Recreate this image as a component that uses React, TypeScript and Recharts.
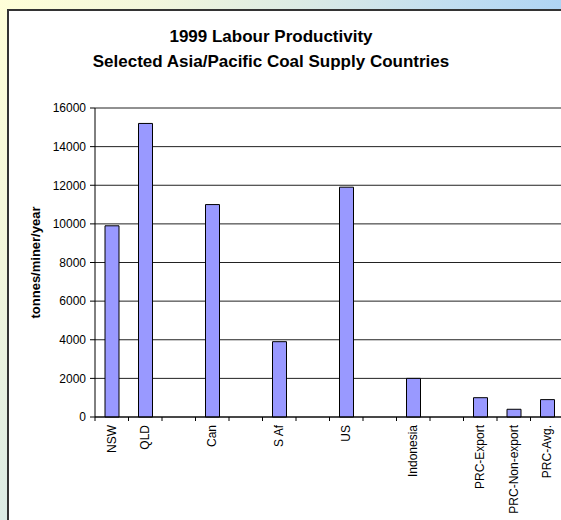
import React from 'react'
import { BarChart, Bar, XAxis, YAxis, CartesianGrid } from 'recharts'

const categories = ['NSW', 'QLD', '', 'Can', '', 'S Af', '', 'US', '', 'Indonesia', '', 'PRC-Export', 'PRC-Non-export', 'PRC-Avg.']
const productivity = [9900, 15200, null, 11000, null, 3900, null, 11900, null, 2000, null, 1000, 400, 900]
const yTicks = [0, 2000, 4000, 6000, 8000, 10000, 12000, 14000, 16000]

const titleLines = ['1999 Labour Productivity', 'Selected Asia/Pacific Coal Supply Countries']
const yLabel = 'tonnes/miner/year'

const data = categories.map((name, i) => ({ name, value: productivity[i] }))

const W = 580
const H = 520
const margin = { top: 108, right: 16, bottom: 3, left: 35 }
const Y_AXIS_W = 60
const X_AXIS_H = 100
const slot = (W - margin.left - Y_AXIS_W - margin.right) / categories.length
const font = '"Liberation Sans", Arial, sans-serif'

const CategoryTick = (props: any) => {
  const { x, y, payload } = props
  const bx = x - slot / 2
  return (
    <g>
      <line x1={bx} y1={y} x2={bx} y2={y + 4} stroke="#000" />
      <text
        transform={`translate(${x},${y + 8}) rotate(-90)`}
        textAnchor="end"
        dy="0.35em"
        fontSize={12}
        fontFamily={font}
        fill="#000"
      >
        {payload.value}
      </text>
    </g>
  )
}

export default function App() {
  const plotMidY = margin.top + (H - margin.top - margin.bottom - X_AXIS_H) / 2
  return (
    <div
      style={{
        position: 'fixed', left: 0, top: 0, width: 561, height: 520, overflow: 'hidden',
        background: 'linear-gradient(120deg, #ffffd8 0%, #f2f6dc 18%, #dcebe4 35%, #c2def0 52%, #a9d1f5 70%, #a9d1f5 100%)',
      }}
    >
      <div
        style={{
          position: 'absolute', left: 7, top: 9, right: -10, bottom: -10,
          background: '#fff', borderLeft: '2px solid #333', borderTop: '2px solid #333',
        }}
      />
      <div style={{ position: 'absolute', left: 0, top: 0 }}>
        <BarChart width={W} height={H} data={data} margin={margin} barSize={14}>
          <CartesianGrid vertical={false} stroke="#222" />
          <XAxis
            dataKey="name"
            interval={0}
            height={X_AXIS_H}
            tickSize={0}
            tickMargin={0}
            tick={<CategoryTick />}
            axisLine={{ stroke: '#000' }}
            tickLine={false}
          />
          <YAxis
            width={Y_AXIS_W}
            domain={[0, 16000]}
            ticks={yTicks}
            tickSize={5}
            tickMargin={4}
            tick={{ fill: '#000', fontSize: 12, fontFamily: font }}
            axisLine={{ stroke: '#000' }}
            tickLine={{ stroke: '#000' }}
          />
          <Bar dataKey="value" fill="#9999ff" stroke="#000" strokeWidth={1} isAnimationActive={false} />
          <text x={271} y={42} textAnchor="middle" fontSize={17} fontWeight="bold" fontFamily={font} fill="#000">
            {titleLines[0]}
          </text>
          <text x={271} y={67} textAnchor="middle" fontSize={17} fontWeight="bold" fontFamily={font} fill="#000">
            {titleLines[1]}
          </text>
          <text
            transform={`translate(35,${plotMidY}) rotate(-90)`}
            textAnchor="middle"
            dy="0.35em"
            fontSize={13}
            fontWeight="bold"
            fontFamily={font}
            fill="#000"
          >
            {yLabel}
          </text>
        </BarChart>
      </div>
    </div>
  )
}
